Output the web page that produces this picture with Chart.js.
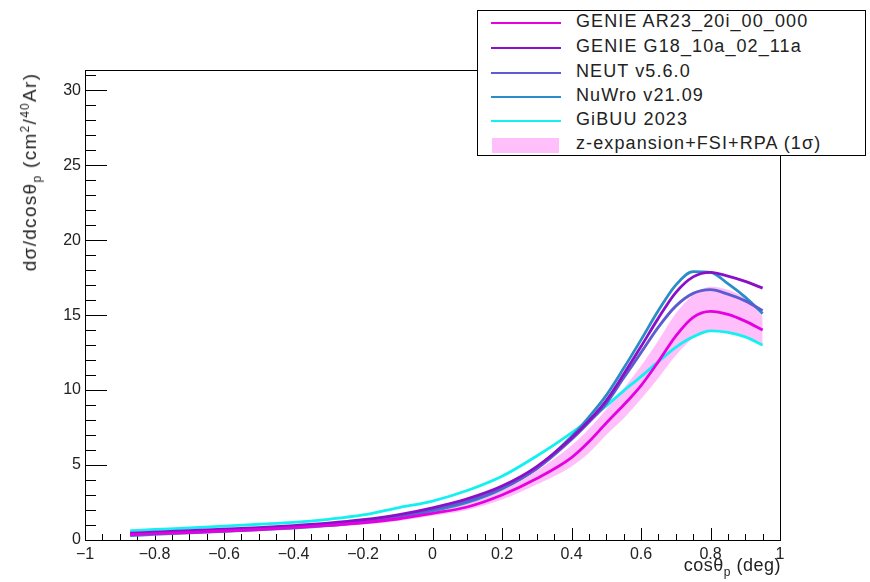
<!DOCTYPE html>
<html>
<head>
<meta charset="utf-8">
<script src="https://cdn.jsdelivr.net/npm/chart.js@4/dist/chart.umd.min.js"></script>
<style>
  body { margin: 0; background: #fff; }
  #wrap { position: relative; width: 870px; height: 582px; font-family: "Liberation Sans", Arial, sans-serif; }
  #legende { position: absolute; left: 477px; top: 10px; width: 389px; height: 146px; border: 1px solid #000; background: #fff; box-sizing: border-box; }
  .ligne { position: absolute; left: 0; height: 24px; width: 100%; font-size: 18px; letter-spacing: 1.1px; color: #222; }
  .ligne span.trait { position: absolute; left: 13px; width: 70px; top: 11px; height: 2px; }
  .ligne span.bande { position: absolute; left: 14px; width: 67px; top: 5px; height: 15px; }
  .ligne span.texte { position: absolute; left: 98px; top: 0px; white-space: nowrap; }
  .titre { position: absolute; font-size: 18px; letter-spacing: 0.5px; color: #222; white-space: nowrap; }
  #titreY { font-size: 19px; letter-spacing: 1.3px; }
  sub, sup { font-size: 12px; }
</style>
</head>
<body>
<div id="wrap">
  <canvas id="section" width="870" height="582"></canvas>
  <div class="titre" id="titreY" style="left: 31px; top: 172px; transform: translate(-50%, -50%) rotate(-90deg);">dσ/dcosθ<sub>p</sub> (cm<sup>2</sup>/<sup>40</sup>Ar)</div>
  <div class="titre" style="right: 89px; top: 555px;">cosθ<sub>p</sub> (deg)</div>
  <div id="legende"></div>
</div>
<script>
const cosTheta = [-0.87, -0.8, -0.7, -0.6, -0.5, -0.4, -0.3, -0.2, -0.1, 0, 0.1, 0.2, 0.3, 0.4, 0.45, 0.5, 0.55, 0.6, 0.65, 0.7, 0.75, 0.8, 0.85, 0.9, 0.95];

const genieAR23 = [0.35, 0.42, 0.5, 0.6, 0.7, 0.82, 0.97, 1.15, 1.4, 1.78, 2.2, 3.0, 4.1, 5.5, 6.55, 7.8, 9.0, 10.3, 11.9, 13.6, 14.85, 15.25, 15.05, 14.6, 14.0];
const genieG18 = [0.45, 0.52, 0.62, 0.72, 0.83, 0.96, 1.12, 1.35, 1.68, 2.15, 2.75, 3.6, 4.9, 6.8, 7.95, 9.3, 11.05, 12.9, 14.8, 16.5, 17.55, 17.85, 17.6, 17.25, 16.8];
const neut = [0.4, 0.47, 0.57, 0.67, 0.78, 0.9, 1.06, 1.28, 1.6, 2.05, 2.6, 3.45, 4.75, 6.7, 7.85, 9.1, 10.8, 12.5, 14.2, 15.6, 16.45, 16.7, 16.4, 15.95, 15.3];
const nuwro = [0.3, 0.37, 0.47, 0.57, 0.68, 0.8, 0.96, 1.18, 1.5, 1.95, 2.5, 3.4, 4.8, 6.9, 8.2, 9.65, 11.45, 13.35, 15.3, 17.0, 17.9, 17.85, 17.1, 16.2, 15.1];
const gibuu = [0.62, 0.7, 0.8, 0.93, 1.05, 1.17, 1.38, 1.67, 2.15, 2.6, 3.3, 4.25, 5.6, 7.15, 8.0, 8.95, 9.95, 10.9, 11.9, 12.85, 13.55, 13.95, 13.85, 13.55, 13.0];
const bandeBas = [0.25, 0.32, 0.4, 0.5, 0.6, 0.72, 0.86, 1.03, 1.27, 1.62, 2.0, 2.7, 3.7, 4.9, 5.8, 7.0, 8.1, 9.4, 10.8, 12.3, 13.45, 13.95, 13.85, 13.55, 13.0];
const bandeHaut = [0.45, 0.52, 0.6, 0.7, 0.81, 0.94, 1.1, 1.3, 1.57, 1.98, 2.45, 3.3, 4.6, 6.3, 7.4, 8.7, 10.1, 11.6, 13.3, 15.1, 16.35, 16.9, 16.7, 16.1, 14.9];

const noms = ['GENIE AR23_20i_00_000', 'GENIE G18_10a_02_11a', 'NEUT v5.6.0', 'NuWro v21.09', 'GiBUU 2023'];
const couleurs = ['#e400e0', '#8a10c8', '#5c5cd0', '#2a8cc8', '#14f0f0'];
const nomBande = 'z-expansion+FSI+RPA (1σ)';
const couleurBande = '#ffbffa';

const series = [genieAR23, genieG18, neut, nuwro, gibuu];

function points(valeurs) {
  return cosTheta.map((x, i) => ({ x: x, y: valeurs[i] }));
}

const datasets = series.map((valeurs, i) => ({
  label: noms[i],
  data: points(valeurs),
  borderColor: couleurs[i],
  borderWidth: 2.8,
  pointRadius: 0,
  fill: false,
  cubicInterpolationMode: 'monotone',
}));

// la bande en dernier pour qu'elle soit dessinée sous les courbes
datasets.push({
  label: 'bas',
  data: points(bandeBas),
  borderWidth: 0,
  borderColor: 'rgba(0,0,0,0)',
  pointRadius: 0,
  fill: false,
  cubicInterpolationMode: 'monotone',
});
datasets.push({
  label: nomBande,
  data: points(bandeHaut),
  borderWidth: 0,
  borderColor: 'rgba(0,0,0,0)',
  backgroundColor: couleurBande,
  pointRadius: 0,
  fill: '-1',
  cubicInterpolationMode: 'monotone',
});

// graduations vers l'intérieur, façon ROOT
const graduations = {
  id: 'graduations',
  beforeDatasetsDraw(chart) {
    const { ctx, chartArea, scales } = chart;
    ctx.save();
    ctx.strokeStyle = '#000';
    ctx.lineWidth = 1;
    ctx.beginPath();
    for (let v = 0; v <= 31; v++) {
      const y = Math.round(scales.y.getPixelForValue(v)) + 0.5;
      const l = v % 5 === 0 ? 22 : 11;
      ctx.moveTo(chartArea.left, y);
      ctx.lineTo(chartArea.left + l, y);
    }
    for (let k = -20; k <= 20; k++) {
      const x = Math.round(scales.x.getPixelForValue(k * 0.05)) + 0.5;
      const l = k % 4 === 0 ? 12 : 6;
      ctx.moveTo(x, chartArea.bottom);
      ctx.lineTo(x, chartArea.bottom - l);
    }
    ctx.stroke();
    ctx.restore();
  },
  afterDraw(chart) {
    const { ctx, chartArea } = chart;
    ctx.save();
    ctx.strokeStyle = '#000';
    ctx.lineWidth = 1;
    ctx.strokeRect(chartArea.left + 0.5, chartArea.top + 0.5, chartArea.right - chartArea.left, chartArea.bottom - chartArea.top);
    ctx.restore();
  },
};

function formatNombre(v) {
  const r = Math.round(v * 10) / 10;
  return r < 0 ? '\u2212' + Math.abs(r) : String(r);
}

const ctx = document.getElementById('section').getContext('2d');
const section = new Chart(ctx, {
  type: 'line',
  data: { datasets: datasets },
  plugins: [graduations],
  options: {
    responsive: false,
    animation: false,
    layout: { padding: { top: 70, right: 90, left: 0, bottom: 0 } },
    plugins: { legend: { display: false }, tooltip: { enabled: false } },
    scales: {
      x: {
        type: 'linear',
        min: -1,
        max: 1,
        grid: { display: false, drawTicks: false },
        border: { display: false },
        ticks: {
          stepSize: 0.2,
          padding: 5,
          color: '#222',
          font: { family: 'Liberation Sans', size: 16 },
          maxRotation: 0,
          callback: formatNombre,
        },
        afterFit(scale) { scale.height = 42; },
      },
      y: {
        type: 'linear',
        min: 0,
        max: 31.35,
        grid: { display: false, drawTicks: false },
        border: { display: false },
        ticks: {
          stepSize: 5,
          padding: 4,
          color: '#222',
          font: { family: 'Liberation Sans', size: 16 },
          callback: (v) => (v % 5 === 0 ? String(v) : ''),
        },
        afterFit(scale) { scale.width = 85; },
      },
    },
  },
});

// légende en HTML, construite à partir des mêmes tableaux
const legende = document.getElementById('legende');
const hauteurs = [0, 24.5, 49.5, 73.5, 97.5];
noms.forEach((nom, i) => {
  const div = document.createElement('div');
  div.className = 'ligne';
  div.style.top = hauteurs[i] + 'px';
  div.innerHTML = '<span class="trait" style="background:' + couleurs[i] + '"></span><span class="texte">' + nom + '</span>';
  legende.appendChild(div);
});
const divBande = document.createElement('div');
divBande.className = 'ligne';
divBande.style.top = '121.5px';
divBande.innerHTML = '<span class="bande" style="background:' + couleurBande + '"></span><span class="texte">' + nomBande + '</span>';
legende.appendChild(divBande);
</script>
</body>
</html>
